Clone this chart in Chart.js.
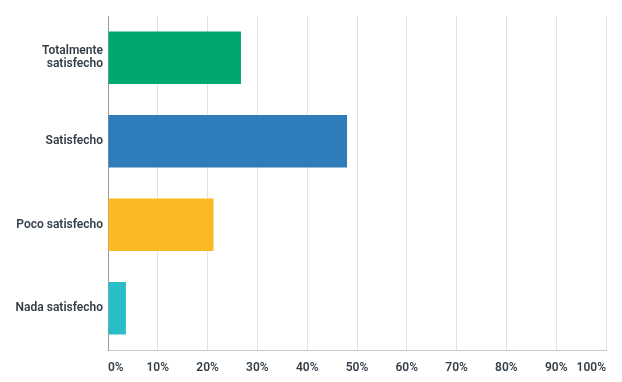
<!DOCTYPE html>
<html>
<head>
<meta charset="utf-8">
<script src="https://cdn.jsdelivr.net/npm/chart.js@4"></script>
<style>
html,body{margin:0;padding:0;background:#fff;}
#wrap{width:622px;height:382px;position:relative;}
</style>
</head>
<body>
<div id="wrap"><canvas id="c" width="622" height="382"></canvas></div>
<script>
const categories = [["Totalmente","satisfecho"], "Satisfecho", "Poco satisfecho", "Nada satisfecho"];
const values = [26.7, 48.0, 21.2, 3.6];
const barColors = ["#00a86f", "#2e7dba", "#fbb923", "#28bec7"];
const tickValues = [0,10,20,30,40,50,60,70,80,90,100];

new Chart(document.getElementById('c'), {
  type: 'bar',
  data: {
    labels: categories,
    datasets: [{
      data: values,
      backgroundColor: barColors,
      borderWidth: 0,
      barPercentage: 0.9,
      categoryPercentage: 0.7
    }]
  },
  options: {
    indexAxis: 'y',
    responsive: false,
    animation: false,
    devicePixelRatio: 1,
    layout: { padding: { top: 16, right: 16, left: 0, bottom: 0 } },
    plugins: { legend: { display: false }, tooltip: { enabled: false } },
    scales: {
      x: {
        min: 0, max: 100,
        afterBuildTicks: (s) => { s.ticks = tickValues.map(v => ({ value: v })); },
        afterFit: (s) => { s.height = 32; },
        grid: { color: '#e2e2e2', drawTicks: false, lineWidth: 1 },
        border: { color: '#c8c8c8', width: 1 },
        ticks: {
          align: 'inner',
          padding: 11,
          color: '#333e48',
          font: { family: 'Roboto', size: 12, weight: '600' },
          callback: (v) => v + '%'
        }
      },
      y: {
        afterFit: (s) => { s.width = 108; },
        grid: { display: false, drawTicks: false },
        border: { color: '#9a9a9a', width: 1 },
        ticks: {
          padding: 5,
          color: '#333e48',
          font: { family: 'Roboto', size: 12, weight: '600', lineHeight: 1.1 }
        }
      }
    }
  }
});
</script>
</body>
</html>
